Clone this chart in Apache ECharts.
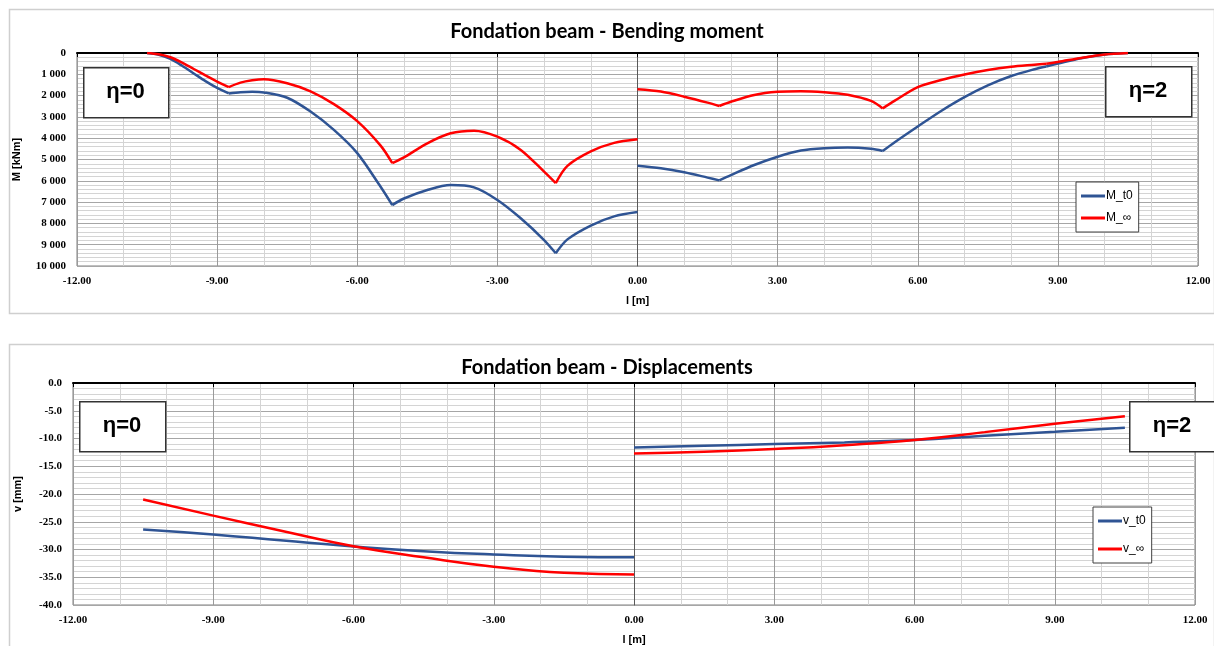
<!DOCTYPE html>
<html>
<head>
<meta charset="utf-8">
<script src="https://cdn.jsdelivr.net/npm/echarts@6/dist/echarts.min.js"></script>
<style>
  html, body { margin: 0; padding: 0; background: #fff; }
  #chart { width: 1214px; height: 646px; }
</style>
</head>
<body>
<div id="chart"></div>
<script>
// bending moment, eta=0 side (left) and eta=2 side (right)
var xMomLeft = [-10.5, -10.25, -10, -9.75, -9.5, -9.25, -9, -8.75, -8.5, -8.25, -8, -7.5, -7, -6.5, -6, -5.5, -5.25, -5, -4.5, -4, -3.5, -3, -2.5, -2, -1.75, -1.5, -1, -0.5, 0];
var mT0Left  = [0, 80, 280, 600, 960, 1320, 1640, 1900, 1840, 1820, 1850, 2100, 2750, 3610, 4700, 6280, 7140, 6830, 6430, 6200, 6310, 6900, 7760, 8780, 9400, 8750, 8100, 7670, 7470];
var mInfLeft = [0, 60, 200, 450, 750, 1050, 1340, 1600, 1390, 1280, 1230, 1420, 1800, 2400, 3200, 4350, 5170, 4900, 4240, 3770, 3650, 3930, 4550, 5570, 6110, 5300, 4620, 4220, 4050];

var xMomRight = [0, 0.5, 1, 1.5, 1.75, 2, 2.5, 3, 3.5, 4, 4.5, 5, 5.25, 5.5, 6, 6.5, 7, 7.5, 8, 8.5, 8.75, 9, 9.5, 10, 10.5];
var mT0Right  = [5290, 5410, 5600, 5850, 5980, 5730, 5260, 4870, 4580, 4470, 4440, 4500, 4600, 4200, 3450, 2720, 2070, 1520, 1080, 760, 630, 500, 250, 70, 0];
var mInfRight = [1700, 1810, 2050, 2330, 2490, 2290, 1970, 1820, 1790, 1840, 1960, 2250, 2600, 2250, 1600, 1270, 1010, 800, 650, 550, 500, 420, 230, 70, 0];

// support positions where the moment lines break
var kinksLeft = [-8.75, -5.25, -1.75];
var kinksRight = [1.75, 5.25, 8.75];

// displacements
var xDispLeft = [-10.5, -9, -7.5, -6, -4.5, -3, -1.5, 0];
var vT0Left   = [-26.4, -27.3, -28.4, -29.45, -30.3, -30.9, -31.3, -31.4];
var vInfLeft  = [-21.0, -23.9, -26.7, -29.4, -31.4, -33.1, -34.2, -34.5];

var xDispRight = [0, 1.5, 3, 4.5, 6, 7.5, 9, 10.5];
var vT0Right   = [-11.6, -11.3, -11.0, -10.7, -10.25, -9.5, -8.8, -8.05];
var vInfRight  = [-12.7, -12.4, -11.9, -11.2, -10.25, -8.85, -7.35, -6.0];

var BLUE = '#2f5494';
var RED = '#ff0000';

function pairs(xs, ys) {
  return xs.map(function (x, i) { return [x, ys[i]]; });
}

// cut a curve at its kinks so each piece can be smoothed on its own
function pieces(xs, ys, kinks) {
  var out = [], cur = [];
  xs.forEach(function (x, i) {
    cur.push([x, ys[i]]);
    if (kinks.indexOf(x) >= 0) {
      out.push(cur);
      cur = [[x, ys[i]]];
    }
  });
  if (cur.length > 1) out.push(cur);
  return out;
}

function kNm(v) {
  if (v < 1000) return String(v);
  return Math.floor(v / 1000) + ' ' + String(v % 1000).padStart(3, '0');
}

var tickFont = { fontFamily: 'Liberation Serif', fontWeight: 'bold', fontSize: 11, color: '#000' };

function xAxes(grid) {
  return [
    {
      gridIndex: grid, type: 'value', min: -12, max: 12, interval: 3, position: 'bottom',
      name: 'l [m]', nameLocation: 'middle', nameGap: 29,
      nameTextStyle: { fontFamily: 'Liberation Sans', fontWeight: 'bold', fontSize: 11, color: '#000' },
      axisLine: { show: true, lineStyle: { color: '#7f7f7f', width: 1 } },
      axisTick: { show: false },
      axisLabel: Object.assign({ margin: 10, formatter: function (v) { return v.toFixed(2); } }, tickFont),
      splitLine: { show: true, lineStyle: { color: '#9a9a9a', width: 1 } },
      minorTick: { show: false, splitNumber: 3 },
      minorSplitLine: { show: true, lineStyle: { color: '#d4d4d4', width: 1 } }
    },
    {
      gridIndex: grid, type: 'value', min: -12, max: 12, interval: 3, position: 'top',
      axisLine: { show: true, lineStyle: { color: '#000', width: 2 } },
      axisTick: { show: true, inside: true, length: 4, lineStyle: { color: '#000' } },
      axisLabel: { show: false },
      splitLine: { show: false }
    }
  ];
}

function legendBox(left, top, names, gap) {
  return {
    data: names, orient: 'vertical', left: left, top: top,
    icon: 'rect', itemWidth: 24, itemHeight: 3, itemGap: gap,
    padding: [8, 6, 8, 5],
    borderColor: '#404040', borderWidth: 1, backgroundColor: '#fff',
    textStyle: { fontFamily: 'Liberation Sans', fontSize: 12, color: '#000', padding: [0, 0, 0, -4] }
  };
}

function lineSeries(name, color, xi, yi, data, smooth) {
  return {
    name: name, type: 'line', xAxisIndex: xi, yAxisIndex: yi,
    data: data, symbol: 'none', showSymbol: false, smooth: smooth,
    color: color, lineStyle: { color: color, width: 2.5 }, z: 3
  };
}

function momentSeries(name, color, xs, ys, kinks) {
  return pieces(xs, ys, kinks).map(function (p) {
    return lineSeries(name, color, 0, 0, p, 0.3);
  });
}

function etaBox(x, y, w, h, label) {
  return [
    { type: 'rect', left: x, top: y, z: 50,
      shape: { width: w, height: h },
      style: { fill: '#fff', stroke: '#333', lineWidth: 1.5 } },
    { type: 'text', x: x + w / 2, y: y + h / 2, z: 51,
      style: { text: label, fontFamily: 'Liberation Sans', fontWeight: 'bold', fontSize: 22,
               fill: '#000', textAlign: 'center', textVerticalAlign: 'middle' } }
  ];
}

var chart = echarts.init(document.getElementById('chart'));

var series = []
  .concat(momentSeries('M_t0', BLUE, xMomLeft, mT0Left, kinksLeft))
  .concat(momentSeries('M_t0', BLUE, xMomRight, mT0Right, kinksRight))
  .concat(momentSeries('M_∞', RED, xMomLeft, mInfLeft, kinksLeft))
  .concat(momentSeries('M_∞', RED, xMomRight, mInfRight, kinksRight))
  .concat([
    lineSeries('v_t0', BLUE, 2, 1, pairs(xDispLeft, vT0Left), true),
    lineSeries('v_t0', BLUE, 2, 1, pairs(xDispRight, vT0Right), true),
    lineSeries('v_∞', RED, 2, 1, pairs(xDispLeft, vInfLeft), true),
    lineSeries('v_∞', RED, 2, 1, pairs(xDispRight, vInfRight), true)
  ]);

var option = {
  backgroundColor: '#fff',
  animation: false,
  title: [
    { text: 'Fondation beam - Bending moment', left: 'center', top: 17,
      textStyle: { fontFamily: 'Lato', fontWeight: 'bold', fontSize: 20, color: '#000' } },
    { text: 'Fondation beam - Displacements', left: 'center', top: 353,
      textStyle: { fontFamily: 'Lato', fontWeight: 'bold', fontSize: 20, color: '#000' } }
  ],
  grid: [
    { left: 77, right: 16, top: 53, height: 213, show: true, borderColor: '#7f7f7f', borderWidth: 1 },
    { left: 73, right: 19, top: 383, height: 225, show: true, borderColor: '#7f7f7f', borderWidth: 1 }
  ],
  xAxis: xAxes(0).concat(xAxes(1)),
  yAxis: [
    {
      gridIndex: 0, type: 'value', min: 0, max: 10000, interval: 1000, inverse: true,
      name: 'M [kNm]', nameLocation: 'middle', nameGap: 55, nameRotate: 90,
      nameTextStyle: { fontFamily: 'Liberation Sans', fontWeight: 'bold', fontSize: 11, color: '#000' },
      axisLine: { show: true, lineStyle: { color: '#595959' } },
      axisTick: { show: false },
      axisLabel: Object.assign({ margin: 11, formatter: kNm }, tickFont),
      splitLine: { show: true, lineStyle: { color: '#a6a6a6' } },
      minorTick: { show: false, splitNumber: 5 },
      minorSplitLine: { show: true, lineStyle: { color: '#d4d4d4' } }
    },
    {
      gridIndex: 1, type: 'value', min: -40, max: 0, interval: 5,
      name: 'v [mm]', nameLocation: 'middle', nameGap: 50, nameRotate: 90,
      nameTextStyle: { fontFamily: 'Liberation Sans', fontWeight: 'bold', fontSize: 11, color: '#000' },
      axisLine: { show: true, lineStyle: { color: '#595959' } },
      axisTick: { show: false },
      axisLabel: Object.assign({ margin: 11, formatter: function (v) { return v.toFixed(1); } }, tickFont),
      splitLine: { show: true, lineStyle: { color: '#a6a6a6' } },
      minorTick: { show: false, splitNumber: 5 },
      minorSplitLine: { show: true, lineStyle: { color: '#d4d4d4' } }
    }
  ],
  legend: [
    legendBox(1076, 182, ['M_t0', 'M_∞'], 10),
    legendBox(1093, 507, ['v_t0', 'v_∞'], 16)
  ],
  series: series,
  graphic: [
    { type: 'rect', left: 7, top: 7, z: -10, silent: true,
      shape: { width: 1205, height: 304 }, style: { fill: 'none', stroke: '#cfcfcf', lineWidth: 1.5 } },
    { type: 'rect', left: 7, top: 342, z: -10, silent: true,
      shape: { width: 1205, height: 310 }, style: { fill: 'none', stroke: '#cfcfcf', lineWidth: 1.5 } }
  ]
    .concat(etaBox(83, 67, 85, 50, 'η=0'))
    .concat(etaBox(1105, 66, 86, 50, 'η=2'))
    .concat(etaBox(79, 401, 86, 50, 'η=0'))
    .concat(etaBox(1129, 401, 86, 50, 'η=2'))
};

chart.setOption(option);
</script>
</body>
</html>
